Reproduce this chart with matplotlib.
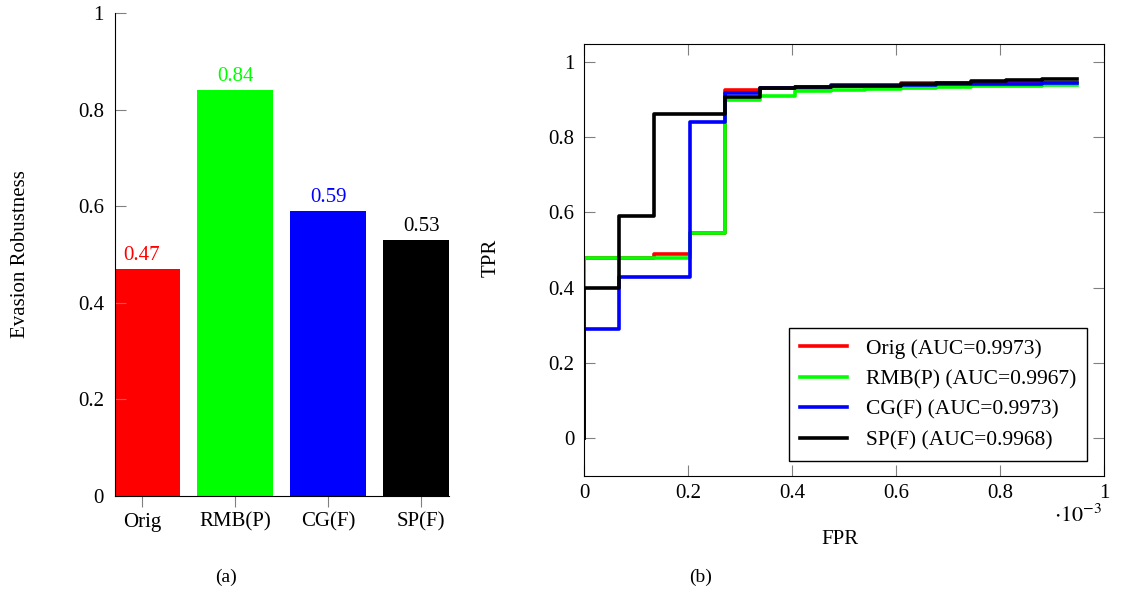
import matplotlib
matplotlib.use("Agg")
import matplotlib.pyplot as plt

plt.rcParams['font.family'] = ['Liberation Serif', 'DejaVu Serif']
plt.rcParams['mathtext.fontset'] = 'stix'

# bar chart (a)
methods = ["Orig", "RMB(P)", "CG(F)", "SP(F)"]
robustness = [0.47, 0.84, 0.59, 0.53]
colors = ["#ff0000", "#00ff00", "#0000ff", "#000000"]

# ROC curves (b), FPR in units of 1e-3
fpr = [0, 0, 0.068, 0.135, 0.203, 0.271, 0.338, 0.406, 0.474,
       0.541, 0.609, 0.677, 0.745, 0.812, 0.880, 0.948]
tpr_orig = [0, 0.478, 0.478, 0.489, 0.546, 0.925, 0.930, 0.932, 0.935,
            0.937, 0.943, 0.945, 0.944, 0.944, 0.944, 0.944]
tpr_rmb = [0, 0.478, 0.478, 0.478, 0.546, 0.898, 0.909, 0.922, 0.926,
           0.929, 0.932, 0.934, 0.936, 0.937, 0.938, 0.938]
tpr_cg = [0, 0.289, 0.429, 0.429, 0.841, 0.918, 0.930, 0.933, 0.940,
          0.938, 0.940, 0.941, 0.941, 0.942, 0.944, 0.944]
tpr_sp = [0, 0.400, 0.590, 0.863, 0.863, 0.908, 0.931, 0.933, 0.935,
          0.937, 0.941, 0.944, 0.949, 0.951, 0.956, 0.956]
auc = ["0.9973", "0.9967", "0.9973", "0.9968"]

fig = plt.figure(figsize=(11.21, 5.92), dpi=100)
tc = "#808080"
fs = 15

# ---- (a)
ax1 = fig.add_axes([0.1026, 0.1622, 0.298, 0.816])
x = range(len(methods))
ax1.bar(x, robustness, width=0.82, color=colors)
for i, v in enumerate(robustness):
    ax1.annotate(f"{v:.2f}", (i, v), xytext=(0, 3), textcoords="offset points",
                 ha="center", va="bottom", color=colors[i], fontsize=fs)
ax1.set_xlim(-0.29, 3.30)
ax1.set_ylim(0, 1)
ax1.set_xticks(list(x))
ax1.set_xticklabels(methods)
ax1.set_yticks([0, 0.2, 0.4, 0.6, 0.8, 1])
ax1.set_yticklabels(["0", "0.2", "0.4", "0.6", "0.8", "1"])
ax1.spines["top"].set_visible(False)
ax1.spines["right"].set_visible(False)
ax1.tick_params(axis="x", direction="out", length=8, color=tc, labelsize=fs, pad=4)
ax1.tick_params(axis="y", direction="in", length=8, color=tc, labelsize=fs, pad=8)
ax1.set_ylabel("Evasion Robustness", fontsize=fs)
ax1.yaxis.set_label_coords(-0.255, 0.5)

# ---- (b)
ax2 = fig.add_axes([0.521, 0.196, 0.4639, 0.7297])
names = ["Orig", "RMB(P)", "CG(F)", "SP(F)"]
for tpr, c, n, a in zip([tpr_orig, tpr_rmb, tpr_cg, tpr_sp], colors, names, auc):
    ax2.plot(fpr, tpr, drawstyle="steps-post", color=c, lw=2.6,
             label=f"{n} (AUC={a})")
ax2.set_xlim(0, 1)
ax2.set_ylim(-0.101, 1.048)
ticks = [0, 0.2, 0.4, 0.6, 0.8, 1]
tlabels = ["0", "0.2", "0.4", "0.6", "0.8", "1"]
ax2.set_xticks(ticks)
ax2.set_xticklabels(tlabels)
ax2.set_yticks(ticks)
ax2.set_yticklabels(tlabels)
ax2.tick_params(direction="in", length=8, color=tc, labelsize=fs,
                top=True, right=True)
ax2.tick_params(axis="x", pad=6)
ax2.tick_params(axis="y", pad=7)
ax2.set_xlabel("FPR", fontsize=fs)
ax2.xaxis.set_label_coords(0.492, -0.125)
ax2.set_ylabel("TPR", fontsize=fs)
ax2.yaxis.set_label_coords(-0.16, 0.505)
ax2.text(0.95, -0.092, r"$\cdot 10^{-3}$", transform=ax2.transAxes,
         ha="center", va="center", fontsize=16)
leg = ax2.legend(loc="lower right", bbox_to_anchor=(0.968, 0.035), fontsize=15.5,
                 fancybox=False, framealpha=1, edgecolor="black",
                 handlelength=2.2, handletextpad=0.9, borderpad=0.5,
                 labelspacing=0.48, borderaxespad=0)
leg.get_frame().set_linewidth(1)

fig.text(0.2016, 0.025, "(a)", ha="center", va="center", fontsize=14)
fig.text(0.6245, 0.025, "(b)", ha="center", va="center", fontsize=14)

fig.savefig("out.png", dpi=100)
